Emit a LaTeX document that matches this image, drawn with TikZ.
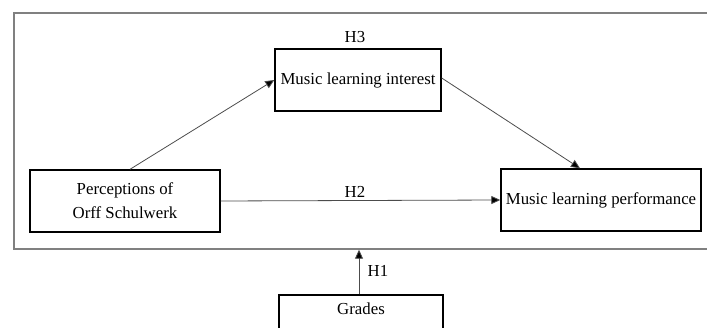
\documentclass[tikz,border=0pt]{standalone}
\usepackage{fontspec}
\setmainfont{Liberation Serif}
\usetikzlibrary{arrows.meta}
\begin{document}
\begin{tikzpicture}[x=1pt,y=-1pt,
  box/.style={draw=black,line width=1.4pt,rectangle,inner sep=0pt,align=center,font=\fontsize{16.8}{24}\selectfont},
  arr/.style={draw=black!70,line width=0.8pt,-{Triangle[length=9pt,width=8pt,fill=black]}},
  lbl/.style={inner sep=0pt,font=\fontsize{16.8}{18}\selectfont}]
\clip (0,0) rectangle (707,328);
\node[draw=black!50,line width=1.4pt,rectangle,minimum width=706pt,minimum height=236pt] (frame) at (367,131) {};
\node[box,minimum width=166pt,minimum height=62pt] (int) at (358,80) {Music learning interest};
\node[box,minimum width=190pt,minimum height=62pt] (perc) at (125,201) {Perceptions of\\Orff Schulwerk};
\node[box,minimum width=200pt,minimum height=62pt] (perf) at (601,200) {Music learning performance};
\node[box,minimum width=164pt,minimum height=62pt,text depth=34pt] (grades) at (361,326) {Grades};
\node[lbl] (h3) at (355,37) {H3};
\node[lbl] (h2) at (355,192) {H2};
\node[lbl] (h1) at (378,271) {H1};
\draw[arr] ([xshift=5pt]perc.north) -- (int.west);
\draw[arr] ([yshift=2pt]int.east) -- ([xshift=-21pt]perf.north);
\draw[arr] (perc.east) -- (perf.west);
\draw[arr] ([xshift=-2pt]grades.north) -- ([xshift=-2pt]grades.north |- frame.south);
\end{tikzpicture}
\end{document}
